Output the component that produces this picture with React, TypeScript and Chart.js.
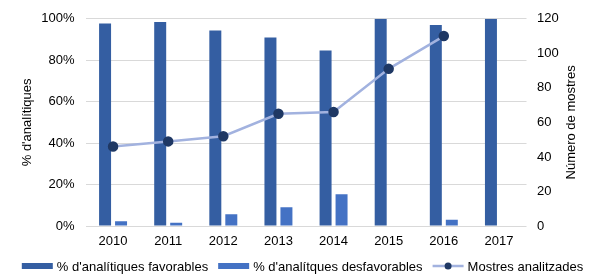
import React, { useEffect, useRef } from "react";
import { Chart, registerables } from "chart.js";

Chart.register(...registerables);

const years = ["2010", "2011", "2012", "2013", "2014", "2015", "2016", "2017"];
const favorables = [97.7, 98.4, 94.3, 91, 84.7, 100, 97, 100];
const desfavorables = [2.3, 1.6, 5.7, 9, 15.3, 0, 3, 0];
const mostres = [46, 49, 52, 65, 66, 91, 110, null];

const leftTicks = [0, 20, 40, 60, 80, 100];
const rightTicks = [0, 20, 40, 60, 80, 100, 120];

const FAV = "#345EA2";
const DESF = "#4472C4";
const LINE = "#A2B2DF";
const POINT = "#1F3864";
const FONT = "'Liberation Sans', Arial, sans-serif";

const legendPlugin = {
  id: "customLegend",
  afterDraw(chart: any) {
    const ctx = chart.ctx;
    ctx.save();
    ctx.font = `13px ${FONT}`;
    ctx.textBaseline = "middle";
    ctx.fillStyle = "#000";
    const items = [
      { label: "% d'analítiques favorables", type: "bar", color: FAV },
      { label: "% d'analítques desfavorables", type: "bar", color: DESF },
      { label: "Mostres analitzades", type: "line", color: LINE },
    ];
    const boxW = 31;
    const gapBox = 4;
    const gapItem = 10;
    const widths = items.map((it) => boxW + gapBox + ctx.measureText(it.label).width);
    const total = widths.reduce((a, b) => a + b, 0) + gapItem * (items.length - 1);
    let x = (chart.width - total) / 2;
    const y = 266;
    items.forEach((it, i) => {
      if (it.type === "bar") {
        ctx.fillStyle = it.color;
        ctx.fillRect(x, y - 3, boxW, 6);
      } else {
        ctx.strokeStyle = LINE;
        ctx.lineWidth = 2.5;
        ctx.beginPath();
        ctx.moveTo(x, y);
        ctx.lineTo(x + boxW, y);
        ctx.stroke();
        ctx.fillStyle = POINT;
        ctx.beginPath();
        ctx.arc(x + boxW / 2, y, 3.5, 0, Math.PI * 2);
        ctx.fill();
      }
      ctx.fillStyle = "#000";
      ctx.fillText(it.label, x + boxW + gapBox, y + 1);
      x += widths[i] + gapItem;
    });

    // right axis title, reading bottom-to-top
    const area = chart.chartArea;
    ctx.save();
    ctx.translate(571.5, (area.top + area.bottom) / 2);
    ctx.rotate(-Math.PI / 2);
    ctx.textAlign = "center";
    ctx.textBaseline = "middle";
    ctx.fillStyle = "#000";
    ctx.fillText("Número de mostres", 0, 0);
    ctx.restore();

    ctx.restore();
  },
};

export default function App() {
  const ref = useRef<HTMLCanvasElement>(null);
  useEffect(() => {
    document.body.style.margin = "0";
    const chart = new Chart(ref.current!, {
      type: "bar",
      data: {
        labels: years,
        datasets: [
          {
            type: "line",
            label: "Mostres analitzades",
            data: mostres as any,
            yAxisID: "y1",
            borderColor: LINE,
            borderWidth: 2.5,
            pointBackgroundColor: POINT,
            pointBorderColor: POINT,
            pointRadius: 4,
            spanGaps: false,
            order: 0,
          },
          {
            type: "bar",
            label: "% d'analítiques favorables",
            data: favorables,
            backgroundColor: FAV,
            yAxisID: "y",
            categoryPercentage: 0.58,
            barPercentage: 0.75,
            order: 1,
          },
          {
            type: "bar",
            label: "% d'analítques desfavorables",
            data: desfavorables,
            backgroundColor: DESF,
            yAxisID: "y",
            categoryPercentage: 0.58,
            barPercentage: 0.75,
            order: 1,
          },
        ],
      },
      options: {
        animation: false,
        responsive: false,
        maintainAspectRatio: false,
        layout: { padding: { top: 12, left: 0, right: 0, bottom: 0 } },
        plugins: { legend: { display: false }, tooltip: { enabled: false } },
        scales: {
          x: {
            grid: { display: false, drawTicks: false },
            border: { display: false },
            ticks: { color: "#000", font: { family: FONT, size: 13 }, padding: 8, maxRotation: 0 },
            afterFit(s: any) { s.height = 53; },
          },
          y: {
            position: "left",
            min: 0,
            max: 100,
            afterBuildTicks(s: any) { s.ticks = leftTicks.map((v) => ({ value: v })); },
            ticks: {
              color: "#000",
              font: { family: FONT, size: 13 },
              padding: 11,
              callback: (v: any) => v + "%",
            },
            grid: { color: "#D9D9D9", drawTicks: false, lineWidth: 1 },
            border: { display: false },
            title: {
              display: true,
              text: "% d'analítiques",
              color: "#000",
              font: { family: FONT, size: 13 },
              padding: { top: 20, bottom: 0 },
            },
            afterFit(s: any) { s.width = 85.5; },
          },
          y1: {
            position: "right",
            min: 0,
            max: 120,
            afterBuildTicks(s: any) { s.ticks = rightTicks.map((v) => ({ value: v })); },
            ticks: { color: "#000", font: { family: FONT, size: 13 }, padding: 10.5 },
            grid: { display: false, drawTicks: false },
            border: { display: false },
            title: { display: false },
            afterFit(s: any) { s.width = 78.5; },
          },
        },
      } as any,
      plugins: [legendPlugin],
    });
    return () => chart.destroy();
  }, []);
  return (
    <div style={{ position: "fixed", left: 0, top: 0, width: 605, height: 279, background: "#fff" }}>
      <canvas ref={ref} width={605} height={279} style={{ width: 605, height: 279 }} />
    </div>
  );
}
